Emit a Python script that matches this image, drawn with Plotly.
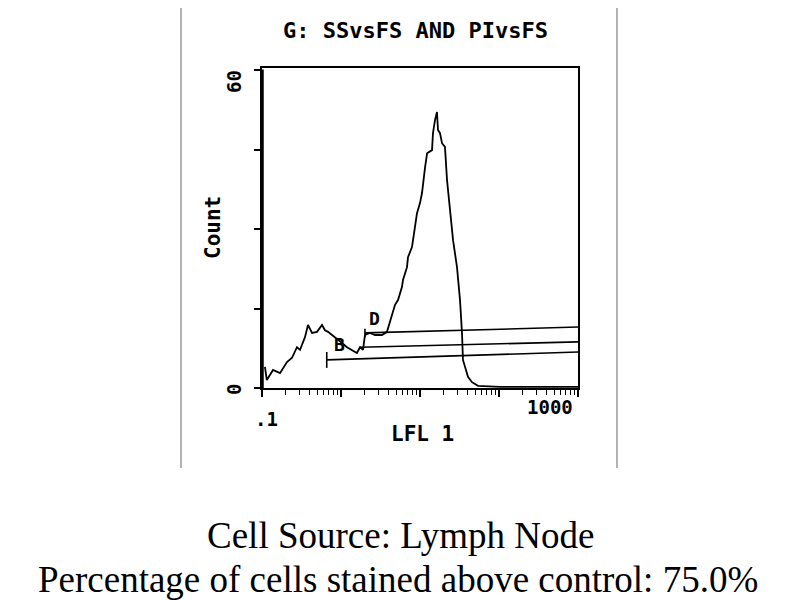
import math
import plotly.graph_objects as go

# Histogram trace: LFL 1 intensity (log scale) vs Count
lfl1 = [0.109, 0.115, 0.138, 0.169, 0.207, 0.240, 0.277, 0.303, 0.350, 0.382,
        0.430, 0.497, 0.575, 0.627, 0.685, 0.840, 1.03, 1.19, 1.38, 1.59,
        1.74, 1.90, 2.01, 2.33, 2.69, 3.30, 3.82, 4.17, 4.42, 4.83,
        5.27, 5.92, 6.09, 6.84, 7.05, 7.92, 8.64, 9.16, 10.0, 10.6,
        11.6, 12.3, 14.2, 14.6, 15.5, 16.4, 16.9, 17.9, 19.0, 20.7,
        22.0, 24.0, 26.2, 29.4, 32.1, 34.0, 35.0, 40.5, 45.5, 54.2,
        103, 1000]
counts = [4.0, 1.5, 3.4, 2.8, 4.9, 5.7, 7.7, 7.2, 9.6, 11.9,
          10.4, 10.6, 11.9, 10.9, 10.6, 9.6, 8.5, 7.7, 7.2, 6.6,
          7.7, 7.2, 10.0, 10.4, 10.0, 10.0, 10.6, 12.5, 14.2, 15.7,
          16.6, 19.1, 20.4, 22.8, 24.7, 26.6, 30.4, 33.0, 34.9, 36.8,
          41.7, 44.3, 44.9, 48.1, 50.6, 52.1, 48.7, 48.1, 46.2, 45.5,
          39.2, 33.6, 27.9, 22.8, 16.6, 10.4, 5.3, 2.1, 1.1, 0.4,
          0.2, 0.2]

# Gate markers (start, end on LFL 1; level at start and end)
gate_names = ["D", "B"]
gate_label_x = [2.69, 0.97]
gate_label_y = [13.2, 8.2]
gate_start = [2.01, 1.74, 0.66]
gate_end = [1000, 1000, 1000]
gate_level_start = [10.4, 7.7, 5.3]
gate_level_end = [11.5, 8.7, 6.8]
gate_tick_half = [0.8, 0.0, 1.5]

y_tick_vals = [0, 15, 30, 45, 60]
y_tick_text = ["0", "60"]
x_major = [0.1, 1, 10, 100, 1000]
x_tick_text = [".1", "1000"]
x_minor = [m * d for d in [0.1, 1, 10, 100] for m in range(2, 10)]

title_text = "G: SSvsFS AND PIvsFS"
x_title = "LFL 1"
y_title = "Count"
caption1 = "Cell Source: Lymph Node"
caption2 = "Percentage of cells stained above control: 75.0%"

mono = "DejaVu Sans Mono"
fig = go.Figure()

fig.add_trace(go.Scatter(x=lfl1, y=counts, mode="lines",
                         line=dict(color="black", width=1.8),
                         showlegend=False, hoverinfo="skip"))

for i in range(len(gate_start)):
    fig.add_trace(go.Scatter(x=[gate_start[i], gate_end[i]],
                             y=[gate_level_start[i], gate_level_end[i]],
                             mode="lines", line=dict(color="black", width=1.6),
                             showlegend=False, hoverinfo="skip"))
    if gate_tick_half[i] > 0:
        fig.add_trace(go.Scatter(x=[gate_start[i], gate_start[i]],
                                 y=[gate_level_start[i] - gate_tick_half[i],
                                    gate_level_start[i] + gate_tick_half[i]],
                                 mode="lines", line=dict(color="black", width=1.6),
                                 showlegend=False, hoverinfo="skip"))

bold_mono = dict(family=mono, color="black", weight="bold")

# gate labels (annotation x on a log axis is given in log10 units)
for name, gx, gy in zip(gate_names, gate_label_x, gate_label_y):
    fig.add_annotation(x=math.log10(gx), y=gy, xref="x", yref="y", text=name,
                       showarrow=False, xanchor="center", yanchor="middle",
                       font=dict(size=18, **bold_mono))

fig.update_xaxes(type="log", range=[-1, 3], showgrid=False, zeroline=False,
                 showline=True, linecolor="black", linewidth=1.5, mirror=True,
                 tickvals=x_major, ticktext=["", "", "", "", ""],
                 ticks="outside", ticklen=7, tickwidth=1.5, tickcolor="black",
                 minor=dict(tickvals=x_minor, ticks="outside", ticklen=5,
                            tickwidth=1.3, tickcolor="black"))
fig.update_yaxes(range=[0, 60.4], showgrid=False, zeroline=False,
                 showline=True, linecolor="black", linewidth=1.5, mirror=True,
                 tickvals=y_tick_vals, ticktext=["", "", "", "", ""],
                 ticks="outside", ticklen=6, tickwidth=1.5, tickcolor="black")

# thick left axis
fig.add_shape(type="line", xref="paper", yref="paper", x0=0, x1=0, y0=0, y1=0.995,
              line=dict(color="black", width=3.5))


def px(xp):
    return (xp - 262) / 316


def py(yp):
    return (388 - yp) / 320


# outer gray frame lines
for gx in (181, 617):
    fig.add_shape(type="line", xref="paper", yref="paper",
                  x0=px(gx), x1=px(gx), y0=py(468), y1=py(-10),
                  line=dict(color="#9a9a9a", width=1.5))


def label(xp, yp, text, size, angle=0, font=None):
    f = font if font is not None else dict(size=size, **bold_mono)
    fig.add_annotation(x=px(xp), y=py(yp), xref="paper", yref="paper", text=text,
                       showarrow=False, textangle=angle, xanchor="center",
                       yanchor="middle", font=f)


label(415, 31, title_text, 22)
label(213, 228, y_title, 21, angle=-90)
label(422, 434, x_title, 21)
label(266, 419, x_tick_text[0], 19)
label(550, 407, x_tick_text[1], 19)
label(234, 82, y_tick_text[1], 19, angle=-90)
label(234, 390, y_tick_text[0], 19, angle=-90)
label(400, 535, caption1, 37,
      font=dict(family="Liberation Serif", size=37, color="black"))
label(398, 579, caption2, 37,
      font=dict(family="Liberation Serif", size=37, color="black"))

# page body has an 8px margin: shift the figure so the plot area lands at 262..578 x 68..388
fig.update_layout(width=792, height=592, plot_bgcolor="white", paper_bgcolor="white",
                  margin=dict(l=254, r=222, t=60, b=212), showlegend=False)

fig.write_html("out.html")
